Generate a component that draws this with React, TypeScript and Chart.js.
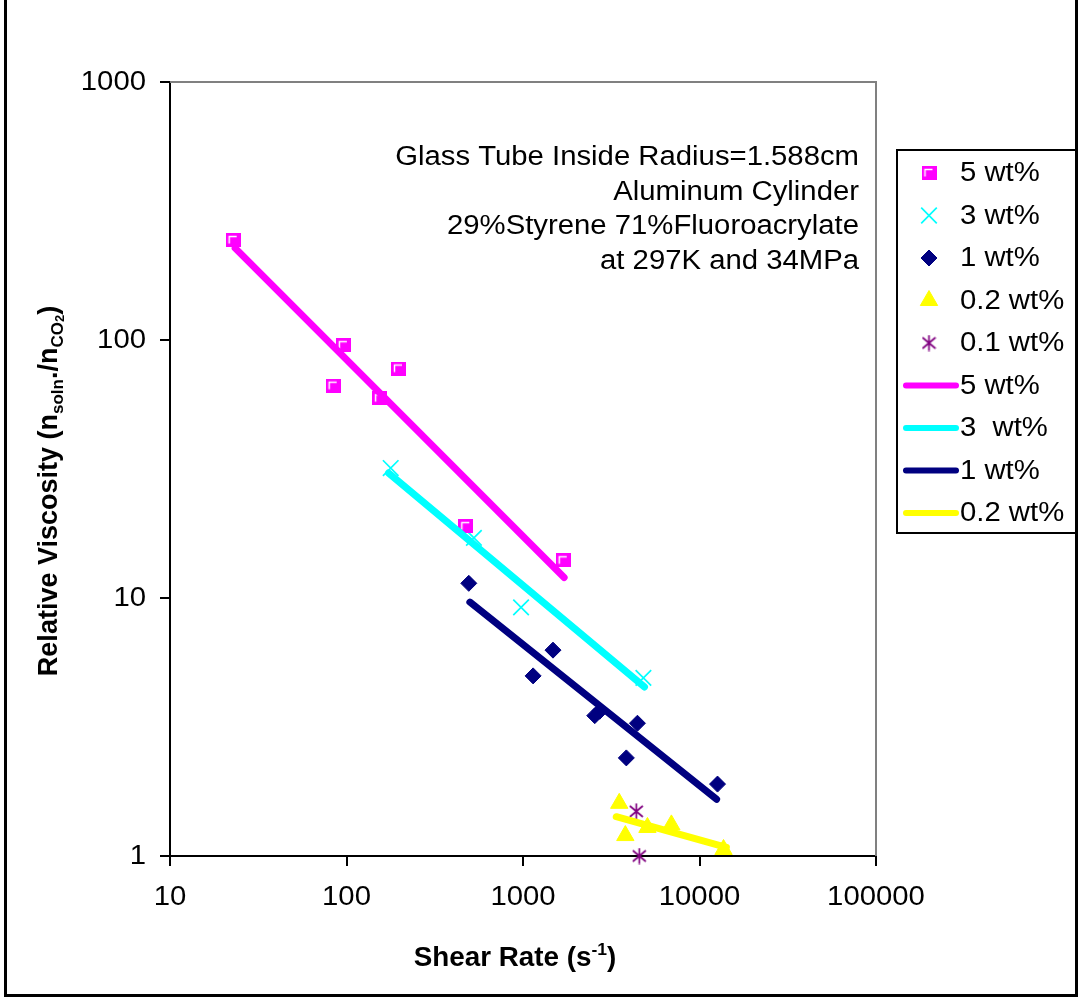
import React, { useEffect, useRef } from 'react';
import { Chart, registerables } from 'chart.js';
import { drawPoint } from 'chart.js/helpers';

Chart.register(...registerables);

const FONT = '"Liberation Sans", Arial, Helvetica, sans-serif';
const SX = 1.085; // horizontal stretch of the original rendering

// Axis ticks
const xTicks = [10, 100, 1000, 10000, 100000];
const yTicks = [1, 10, 100, 1000];

// Measured data
const shear5 = [22.8, 84, 96, 154, 197, 474, 1690];
const visc5 = [244, 66.5, 95.5, 59.5, 77.5, 19.0, 14.0];
const shear3 = [178, 527, 975, 4810];
const visc3 = [31.9, 17.1, 9.2, 4.9];
const shear1 = [493, 1141, 1479, 2550, 2720, 3850, 4450, 12650];
const visc1 = [11.4, 4.99, 6.28, 3.5, 3.64, 2.4, 3.27, 1.9];
const shear02 = [3510, 3800, 5070, 6930, 13680];
const visc02 = [1.6, 1.2, 1.29, 1.32, 1.06];
const shear01 = [4385, 4560];
const visc01 = [1.49, 1.0];

// Power-law fits (end points)
const fitShear5 = [23.4, 1710];
const fitVisc5 = [227, 12.0];
const fitShear3 = [173, 4880];
const fitVisc3 = [30.5, 4.52];
const fitShear1 = [500, 12500];
const fitVisc1 = [9.64, 1.66];
const fitShear02 = [3375, 14200];
const fitVisc02 = [1.42, 1.08];

const legendLabels = ['5 wt%', '3 wt%', '1 wt%', '0.2 wt%', '0.1 wt%', '5 wt%', '3  wt%', '1 wt%', '0.2 wt%'];
const annotationLines = [
  'Glass Tube Inside Radius=1.588cm',
  'Aluminum Cylinder',
  '29%Styrene 71%Fluoroacrylate',
  'at 297K and 34MPa',
];

const MAGENTA = '#FF00FF';
const CYAN = '#00FFFF';
const NAVY = '#000080';
const YELLOW = '#FFFF00';
const PURPLE = '#800080';

const pts = (xs: number[], ys: number[]) => xs.map((x, i) => ({ x, y: ys[i] }));

function makeSquare(): HTMLCanvasElement {
  const c = document.createElement('canvas');
  c.width = 15;
  c.height = 14;
  const g = c.getContext('2d')!;
  g.fillStyle = MAGENTA;
  g.fillRect(0, 0, 15, 14);
  g.strokeStyle = '#FFFFFF';
  g.lineWidth = 1.5;
  g.beginPath();
  g.moveTo(3.5, 10.5);
  g.lineTo(3.5, 3.5);
  g.lineTo(11, 3.5);
  g.stroke();
  return c;
}

function makeAsterisk(): HTMLCanvasElement {
  const c = document.createElement('canvas');
  c.width = 15;
  c.height = 17;
  const g = c.getContext('2d')!;
  g.strokeStyle = PURPLE;
  g.lineWidth = 1.7;
  g.beginPath();
  g.moveTo(7.5, 0.5);
  g.lineTo(7.5, 16.5);
  g.moveTo(1, 3);
  g.lineTo(14, 14);
  g.moveTo(14, 3);
  g.lineTo(1, 14);
  g.stroke();
  return c;
}

function stretchText(
  ctx: CanvasRenderingContext2D,
  text: string,
  x: number,
  y: number,
  align: CanvasTextAlign,
  baseline: CanvasTextBaseline,
  sx: number = SX
) {
  ctx.save();
  ctx.translate(x, y);
  ctx.scale(sx, 1);
  ctx.textAlign = align;
  ctx.textBaseline = baseline;
  ctx.fillText(text, 0, 0);
  ctx.restore();
}

type Part = { t: string; s: number; dy?: number };

function drawRich(ctx: CanvasRenderingContext2D, parts: Part[], cx: number, baseY: number, sx: number) {
  let total = 0;
  const widths = parts.map((p) => {
    ctx.font = `bold ${p.s}px ${FONT}`;
    const w = ctx.measureText(p.t).width * sx;
    total += w;
    return w;
  });
  let x = cx - total / 2;
  parts.forEach((p, i) => {
    ctx.font = `bold ${p.s}px ${FONT}`;
    stretchText(ctx, p.t, x, baseY + (p.dy || 0), 'left', 'alphabetic', sx);
    x += widths[i];
  });
}

const decorPlugin = {
  id: 'decor',
  beforeDraw(chart: any) {
    const ctx = chart.ctx as CanvasRenderingContext2D;
    ctx.save();
    ctx.fillStyle = '#FFFFFF';
    ctx.fillRect(0, 0, chart.width, chart.height);
    ctx.strokeStyle = '#000000';
    ctx.lineWidth = 3;
    ctx.beginPath();
    ctx.moveTo(5.5, 0);
    ctx.lineTo(5.5, 995.5);
    ctx.lineTo(1076.5, 995.5);
    ctx.lineTo(1076.5, 0);
    ctx.stroke();
    ctx.restore();
  },
  beforeDatasetsDraw(chart: any) {
    const ctx = chart.ctx as CanvasRenderingContext2D;
    const a = chart.chartArea;
    ctx.save();
    ctx.strokeStyle = '#808080';
    ctx.lineWidth = 2;
    ctx.beginPath();
    ctx.moveTo(a.left, a.top);
    ctx.lineTo(a.right, a.top);
    ctx.lineTo(a.right, a.bottom);
    ctx.stroke();
    ctx.restore();
  },
  afterDraw(chart: any) {
    const ctx = chart.ctx as CanvasRenderingContext2D;
    const xs = chart.scales.x;
    const ys = chart.scales.y;
    ctx.save();
    ctx.fillStyle = '#000000';

    // tick labels
    ctx.font = `27px ${FONT}`;
    xs.ticks.forEach((t: any) => {
      stretchText(ctx, String(t.value), xs.getPixelForValue(t.value), 898, 'center', 'middle');
    });
    ys.ticks.forEach((t: any) => {
      stretchText(ctx, String(t.value), 146, ys.getPixelForValue(t.value) + 1, 'right', 'middle');
    });

    // annotation
    ctx.font = `27px ${FONT}`;
    annotationLines.forEach((l, i) => stretchText(ctx, l, 859, 165 + i * 34.5, 'right', 'alphabetic'));

    // legend box
    ctx.strokeStyle = '#000000';
    ctx.lineWidth = 2;
    ctx.strokeRect(897, 150, 182, 383);

    const dsets = chart.data.datasets;
    dsets.forEach((ds: any, i: number) => {
      const y = 173 + i * 42.5;
      if (ds.showLine) {
        ctx.strokeStyle = ds.borderColor;
        ctx.lineWidth = 6;
        ctx.lineCap = 'round';
        ctx.beginPath();
        ctx.moveTo(906, y);
        ctx.lineTo(956, y);
        ctx.stroke();
      } else {
        ctx.fillStyle = ds.pointBackgroundColor;
        ctx.strokeStyle = ds.pointBorderColor;
        ctx.lineWidth = ds.pointBorderWidth;
        drawPoint(
          ctx,
          {
            pointStyle: ds.pointStyle,
            radius: ds.pointRadius,
            rotation: 0,
            borderWidth: ds.pointBorderWidth,
          } as any,
          929,
          y
        );
      }
      ctx.fillStyle = '#000000';
      ctx.font = `27px ${FONT}`;
      stretchText(ctx, ds.label, 960, y + 1, 'left', 'middle');
    });

    // x title
    ctx.fillStyle = '#000000';
    drawRich(
      ctx,
      [
        { t: 'Shear Rate (s', s: 27 },
        { t: '-1', s: 17, dy: -11 },
        { t: ')', s: 27 },
      ],
      515,
      966,
      1.03
    );

    // y title
    ctx.save();
    ctx.translate(57, 491);
    ctx.rotate(-Math.PI / 2);
    drawRich(
      ctx,
      [
        { t: 'Relative Viscosity (n', s: 27 },
        { t: 'soln', s: 17, dy: 6 },
        { t: '.', s: 27 },
        { t: '/n', s: 27 },
        { t: 'CO', s: 17, dy: 6 },
        { t: '2', s: 13, dy: 7 },
        { t: ')', s: 27 },
      ],
      0,
      0,
      1
    );
    ctx.restore();
    ctx.restore();
  },
};

export default function App() {
  const ref = useRef<HTMLCanvasElement | null>(null);

  useEffect(() => {
    if (!ref.current) return;
    const square = makeSquare();
    const asterisk = makeAsterisk();

    const scatterBase = { showLine: false, order: 1, clip: false as any };
    const lineBase = {
      showLine: true,
      order: 0,
      pointRadius: 0,
      borderWidth: 7,
      borderCapStyle: 'round' as const,
      borderJoinStyle: 'round' as const,
      clip: false as any,
    };

    const chart = new Chart(ref.current, {
      type: 'scatter',
      data: {
        datasets: [
          {
            ...scatterBase,
            label: legendLabels[0],
            data: pts(shear5, visc5),
            pointStyle: square as any,
            pointRadius: 8,
            pointBorderWidth: 0,
            pointBackgroundColor: MAGENTA,
            pointBorderColor: MAGENTA,
          },
          {
            ...scatterBase,
            label: legendLabels[1],
            data: pts(shear3, visc3),
            pointStyle: 'crossRot',
            pointRadius: 11,
            pointBorderWidth: 1.7,
            pointBackgroundColor: CYAN,
            pointBorderColor: CYAN,
          },
          {
            ...scatterBase,
            label: legendLabels[2],
            data: pts(shear1, visc1),
            pointStyle: 'rectRot',
            pointRadius: 8,
            pointBorderWidth: 1,
            pointBackgroundColor: NAVY,
            pointBorderColor: NAVY,
          },
          {
            ...scatterBase,
            label: legendLabels[3],
            data: pts(shear02, visc02),
            pointStyle: 'triangle',
            pointRadius: 10,
            pointBorderWidth: 1,
            pointBackgroundColor: YELLOW,
            pointBorderColor: YELLOW,
          },
          {
            ...scatterBase,
            label: legendLabels[4],
            data: pts(shear01, visc01),
            pointStyle: asterisk as any,
            pointRadius: 8,
            pointBorderWidth: 0,
            pointBackgroundColor: PURPLE,
            pointBorderColor: PURPLE,
          },
          { ...lineBase, label: legendLabels[5], data: pts(fitShear5, fitVisc5), borderColor: MAGENTA, backgroundColor: MAGENTA },
          { ...lineBase, label: legendLabels[6], data: pts(fitShear3, fitVisc3), borderColor: CYAN, backgroundColor: CYAN },
          { ...lineBase, label: legendLabels[7], data: pts(fitShear1, fitVisc1), borderColor: NAVY, backgroundColor: NAVY },
          { ...lineBase, label: legendLabels[8], data: pts(fitShear02, fitVisc02), borderColor: YELLOW, backgroundColor: YELLOW },
        ] as any,
      },
      options: {
        responsive: false,
        animation: false,
        devicePixelRatio: 1,
        layout: { padding: { left: 0, top: 82, right: 202, bottom: 0 } },
        plugins: {
          legend: { display: false },
          tooltip: { enabled: false },
          title: { display: false },
        },
        scales: {
          x: {
            type: 'logarithmic',
            min: 10,
            max: 100000,
            afterBuildTicks: (axis: any) => {
              axis.ticks = xTicks.map((v) => ({ value: v }));
            },
            afterFit: (s: any) => {
              s.height = 148;
            },
            ticks: { display: false, autoSkip: false, maxRotation: 0, minRotation: 0 },
            grid: {
              display: true,
              drawOnChartArea: false,
              drawTicks: true,
              tickLength: 10,
              tickWidth: 2,
              tickColor: '#000000',
              color: '#000000',
              lineWidth: 2,
            },
            border: { display: true, color: '#000000', width: 2 },
            title: { display: false },
          },
          y: {
            type: 'logarithmic',
            min: 1,
            max: 1000,
            afterBuildTicks: (axis: any) => {
              axis.ticks = yTicks.map((v) => ({ value: v }));
            },
            afterFit: (s: any) => {
              s.width = 170;
            },
            ticks: { display: false, autoSkip: false },
            grid: {
              display: true,
              drawOnChartArea: false,
              drawTicks: true,
              tickLength: 10,
              tickWidth: 2,
              tickColor: '#000000',
              color: '#000000',
              lineWidth: 2,
            },
            border: { display: true, color: '#000000', width: 2 },
            title: { display: false },
          },
        },
      } as any,
      plugins: [decorPlugin],
    });

    return () => chart.destroy();
  }, []);

  return (
    <div style={{ position: 'absolute', left: 0, top: 0, width: 1078, height: 1004, background: '#fff' }}>
      <canvas ref={ref} width={1078} height={1004} style={{ display: 'block', width: 1078, height: 1004 }} />
    </div>
  );
}
